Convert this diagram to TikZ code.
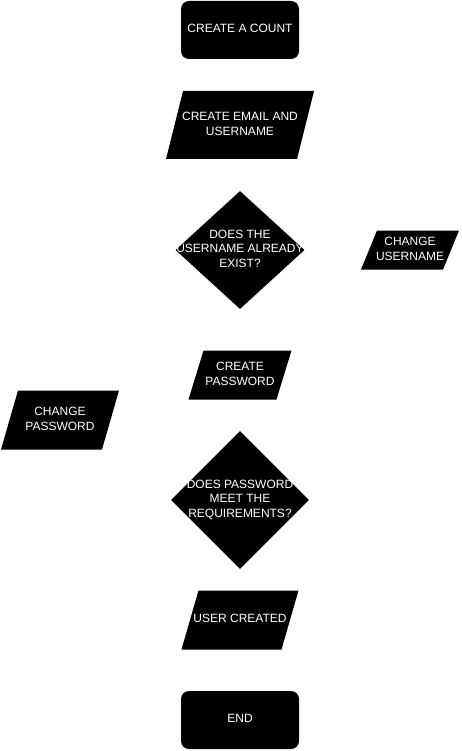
\documentclass[tikz,border=0pt]{standalone}
\usepackage{fontspec}
\setmainfont{Liberation Sans}
\usepackage{tikz}
\usetikzlibrary{positioning,shapes.geometric}
\newcommand{\boxtxt}[1]{\makebox[0pt]{\begin{tabular}{@{}c@{}}#1\end{tabular}}}
\tikzset{
  terminal/.style={rectangle, rounded corners=8pt, fill=black, text=white, inner sep=0pt, minimum width=118pt, minimum height=58pt},
  inout/.style={rectangle, text=white, inner sep=0pt,
    path picture={\fill[black] (path picture bounding box.south west) -- ([xshift=-#1]path picture bounding box.south east)
      -- (path picture bounding box.north east) -- ([xshift=#1]path picture bounding box.north west) -- cycle;}},
  inout/.default=17pt,
  decision/.style={diamond, fill=black, text=white, inner sep=0pt}
}
\begin{document}
\begin{tikzpicture}[x=1pt, y=1pt, node distance=125pt, every node/.style={font=\fontsize{12}{14.3}\selectfont}]
		\useasboundingbox (0,0) rectangle (461,-751);
		\node (count) [terminal] at (240,-30) {\boxtxt{CREATE A COUNT}};
		\node (email) [inout, minimum width=148pt, minimum height=68pt, below of=count, yshift=30pt] {\boxtxt{CREATE EMAIL AND\\USERNAME}};
		\node (exists) [decision, minimum width=129pt, minimum height=118pt, below of=email] {\boxtxt{DOES THE\\USERNAME ALREADY\\EXIST?}};
		\node (chuser) [inout=16pt, minimum width=98pt, minimum height=39pt, right of=exists, xshift=45pt] {\boxtxt{CHANGE\\USERNAME}};
		\node (createpw) [inout=15pt, minimum width=103pt, minimum height=49pt, below of=exists] {\boxtxt{CREATE\\PASSWORD}};
		\node (chpw) [inout, minimum width=118pt, minimum height=59pt, left of=createpw, xshift=-55pt, yshift=-45pt] {\boxtxt{CHANGE\\PASSWORD}};
		\node (meets) [decision, minimum width=138pt, minimum height=138pt, below of=createpw] {\boxtxt{DOES PASSWORD\\MEET THE\\REQUIREMENTS?}};
		\node (created) [inout, minimum width=117pt, minimum height=59pt, below of=meets, yshift=5pt] {\boxtxt{USER CREATED}};
		\node (end) [terminal, below of=created, yshift=25pt] {\boxtxt{END}};
	\end{tikzpicture}
\end{document}
